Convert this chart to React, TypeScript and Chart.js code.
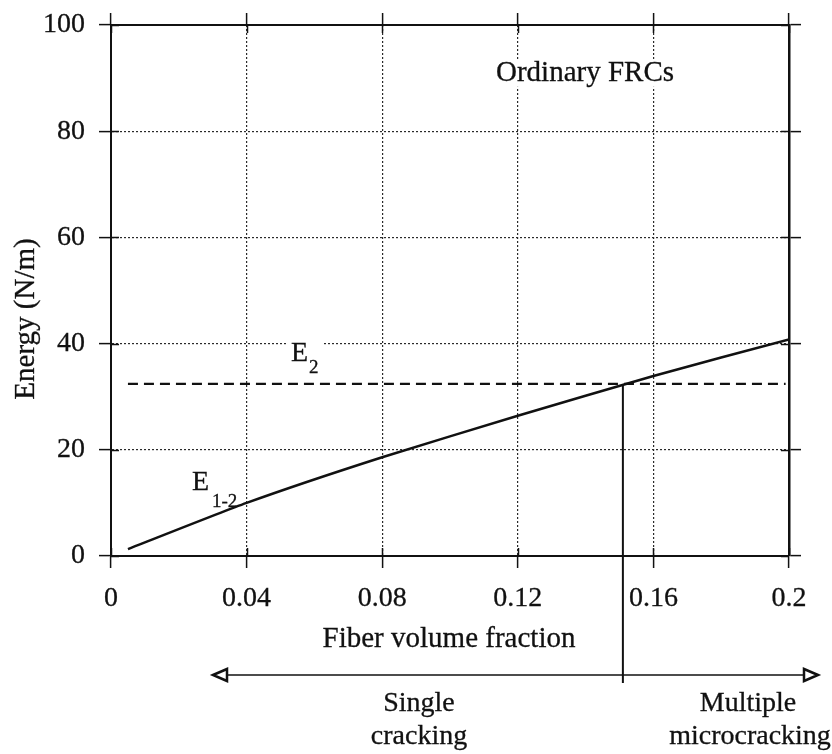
import React, { useEffect, useRef } from 'react';
import { Chart, registerables } from 'chart.js';

Chart.register(...registerables);

// Axis ranges and tick spacing
const X_MIN = 0;
const X_MAX = 0.2;
const X_STEP = 0.04;
const Y_MIN = 0;
const Y_MAX = 100;
const Y_STEP = 20;

// E1-2 energy curve (N/m) against fiber volume fraction
const fiberFraction = [0.005, 0.04, 0.08, 0.12, 0.16, 0.2];
const energyE12 = [1.3, 10, 18.6, 26.4, 33.9, 40.8];

// E2 constant energy level and its span
const e2Span = [0.005, 0.199];
const e2Level = 32.4;

// Fraction where E1-2 crosses E2 (single -> multiple cracking)
const transitionFraction = 0.151;

const SERIF = "'Liberation Serif', 'Times New Roman', serif";
const INK = '#111';
const TEXT_STROKE = 0.3;

const fmtFraction = (v: number) => String(Number(Number(v).toFixed(2)));

const annotations = {
  id: 'annotations',
  afterDatasetsDraw(chart: any) {
    const { ctx, chartArea, scales } = chart;
    const x = scales.x;
    const y = scales.y;
    ctx.save();

    // short inward tick marks on all four sides
    ctx.strokeStyle = INK;
    ctx.lineWidth = 1.5;
    ctx.beginPath();
    for (let v = X_MIN; v <= X_MAX + 1e-9; v += X_STEP) {
      const px = Math.round(x.getPixelForValue(v)) + 0.5;
      ctx.moveTo(px, chartArea.bottom);
      ctx.lineTo(px, chartArea.bottom - 8);
      ctx.moveTo(px, chartArea.top);
      ctx.lineTo(px, chartArea.top + 8);
    }
    for (let v = Y_MIN; v <= Y_MAX + 1e-9; v += Y_STEP) {
      const py = Math.round(y.getPixelForValue(v)) + 0.5;
      ctx.moveTo(chartArea.left, py);
      ctx.lineTo(chartArea.left + 8, py);
      ctx.moveTo(chartArea.right, py);
      ctx.lineTo(chartArea.right - 8, py);
    }
    ctx.stroke();

    // regime arrow under the axis
    const arrowY = 675;
    const arrowLeft = 213;
    const arrowRight = 818;
    ctx.lineWidth = 1.6;
    ctx.beginPath();
    ctx.moveTo(arrowLeft + 12, arrowY);
    ctx.lineTo(arrowRight - 12, arrowY);
    ctx.stroke();
    const head = (tipX: number, dir: number) => {
      ctx.beginPath();
      ctx.moveTo(tipX, arrowY);
      ctx.lineTo(tipX - dir * 14, arrowY - 6);
      ctx.lineTo(tipX - dir * 14, arrowY + 6);
      ctx.closePath();
      ctx.fillStyle = '#fff';
      ctx.fill();
      ctx.lineWidth = 2.5;
      ctx.stroke();
    };
    head(arrowLeft, -1);
    head(arrowRight, 1);

    // transition divider from the E2 crossing down through the arrow
    const tx = x.getPixelForValue(transitionFraction);
    ctx.lineWidth = 2;
    ctx.beginPath();
    ctx.moveTo(tx, y.getPixelForValue(e2Level));
    ctx.lineTo(tx, arrowY + 8);
    ctx.stroke();

    ctx.fillStyle = INK;
    ctx.lineWidth = TEXT_STROKE;
    const text = (s: string, px: number, py: number, size: number, align: CanvasTextAlign = 'center', bg = false) => {
      ctx.font = `${size}px ${SERIF}`;
      ctx.textAlign = align;
      ctx.textBaseline = 'alphabetic';
      if (bg) {
        const w = ctx.measureText(s).width;
        const left = align === 'center' ? px - w / 2 : px;
        ctx.fillStyle = '#fff';
        ctx.fillRect(left - 3, py - size * 0.75, w + 6, size * 0.95);
        ctx.fillStyle = INK;
      }
      ctx.fillText(s, px, py);
      ctx.strokeText(s, px, py);
    };

    text('Ordinary FRCs', 585, 81, 29, 'center', true);

    // E2 label
    ctx.fillStyle = '#fff';
    ctx.fillRect(288, 336, 34, 40);
    ctx.fillStyle = INK;
    text('E', 291, 361, 28, 'left');
    text('2', 309, 373, 19, 'left');

    // E1-2 label
    text('E', 192, 490, 28, 'left');
    text('1-2', 212, 507, 19, 'left');

    // axis titles
    text('Fiber volume fraction', 449, 647, 29);
    ctx.save();
    ctx.translate(34, 319);
    ctx.rotate(-Math.PI / 2);
    text('Energy (N/m)', 0, 0, 29);
    ctx.restore();

    // regime labels
    text('Single', 419, 711, 28);
    text('cracking', 419, 744, 28);
    text('Multiple', 748, 711, 28);
    text('microcracking', 750, 744, 28);

    ctx.restore();
  },
};

export default function App() {
  const canvasRef = useRef<HTMLCanvasElement | null>(null);

  useEffect(() => {
    const canvas = canvasRef.current;
    if (!canvas) return;

    const curve = fiberFraction.map((f, i) => ({ x: f, y: energyE12[i] }));
    const e2 = e2Span.map((f) => ({ x: f, y: e2Level }));

    const tickFont = { family: SERIF, size: 28 };
    const gridStyle = {
      color: '#2a2a2a',
      lineWidth: 1.2,
      tickLength: 12,
      tickColor: INK,
      tickWidth: 1.5,
      tickBorderDash: [],
    };
    const borderStyle = { display: true, color: INK, width: 2, dash: [2, 2] };

    const chart = new Chart(canvas, {
      type: 'line',
      data: {
        datasets: [
          {
            label: 'E1-2',
            data: curve,
            borderColor: INK,
            borderWidth: 2.5,
            pointRadius: 0,
            tension: 0.2,
            fill: false,
          },
          {
            label: 'E2',
            data: e2,
            borderColor: INK,
            borderWidth: 2.2,
            borderDash: [10, 6],
            pointRadius: 0,
            fill: false,
          },
        ],
      },
      options: {
        responsive: false,
        animation: false,
        layout: { padding: 0 },
        plugins: {
          legend: { display: false },
          tooltip: { enabled: false },
          title: { display: false },
        },
        scales: {
          x: {
            type: 'linear',
            position: 'bottom',
            min: X_MIN,
            max: X_MAX,
            ticks: {
              stepSize: X_STEP,
              callback: (v: any) => fmtFraction(v),
              font: tickFont,
              color: INK,
              textStrokeColor: INK,
              textStrokeWidth: TEXT_STROKE,
              padding: 14,
              maxRotation: 0,
              autoSkip: false,
            },
            grid: gridStyle,
            border: borderStyle,
            afterFit: (s: any) => {
              s.height = 198;
              s.paddingLeft = 0;
              s.paddingRight = 0;
            },
          },
          y: {
            type: 'linear',
            position: 'left',
            min: Y_MIN,
            max: Y_MAX,
            ticks: {
              stepSize: Y_STEP,
              font: tickFont,
              color: INK,
              textStrokeColor: INK,
              textStrokeWidth: TEXT_STROKE,
              padding: 14,
            },
            grid: gridStyle,
            border: borderStyle,
            afterFit: (s: any) => {
              s.width = 111;
              s.paddingTop = 0;
              s.paddingBottom = 0;
            },
          },
          x2: {
            type: 'linear',
            position: 'top',
            min: X_MIN,
            max: X_MAX,
            ticks: { display: false, stepSize: X_STEP },
            grid: { ...gridStyle, drawOnChartArea: false },
            border: borderStyle,
            afterFit: (s: any) => {
              s.height = 25;
              s.paddingLeft = 0;
              s.paddingRight = 0;
            },
          },
          y2: {
            type: 'linear',
            position: 'right',
            min: Y_MIN,
            max: Y_MAX,
            ticks: { display: false, stepSize: Y_STEP },
            grid: { ...gridStyle, drawOnChartArea: false },
            border: { ...borderStyle, width: 2.5 },
            afterFit: (s: any) => {
              s.width = 43;
              s.paddingTop = 0;
              s.paddingBottom = 0;
            },
          },
        },
      },
      plugins: [annotations],
    } as any);

    return () => chart.destroy();
  }, []);

  return (
    <div style={{ position: 'absolute', left: 0, top: 0, width: 832, height: 754, background: '#fff' }}>
      <canvas ref={canvasRef} width={832} height={754} style={{ display: 'block' }} />
    </div>
  );
}
